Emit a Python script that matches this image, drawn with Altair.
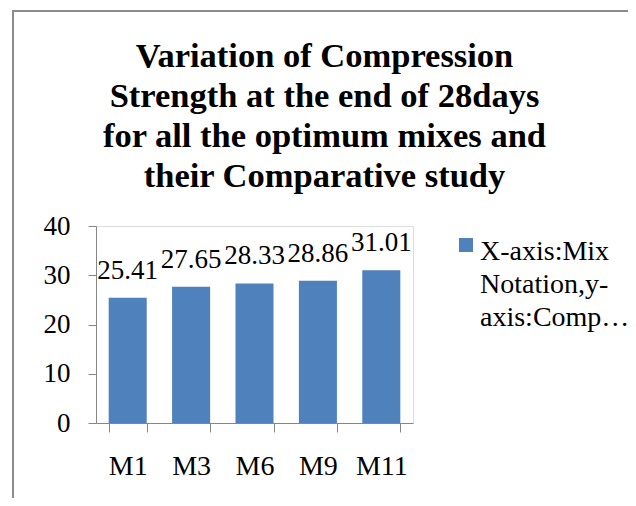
import altair as alt
import pandas as pd

categories = ["M1", "M3", "M6", "M9", "M11"]
values = [25.41, 27.65, 28.33, 28.86, 31.01]
series_name = "X-axis:Mix Notation,y-axis:Compression Strength"
legend_lines = ["X-axis:Mix", "Notation,y-", "axis:Comp\u2026"]
title_lines = [
    "Variation of Compression",
    "Strength at the end of 28days",
    "for all the optimum mixes and",
    "their Comparative study",
]
y_ticks = [0, 10, 20, 30, 40]

df = pd.DataFrame({"mix": categories, "strength": values, "series": [series_name] * len(categories)})

FONT = "Liberation Serif"
GRAY = "#868686"
BLUE = "#4F81BD"

base = alt.Chart(df)

bars = base.mark_bar(color=BLUE).encode(
    x=alt.X(
        "mix:N",
        sort=categories,
        title=None,
        scale=alt.Scale(paddingInner=0.4, paddingOuter=0.2),
        axis=alt.Axis(
            labelAngle=0,
            labelFont=FONT,
            labelFontSize=28,
            labelColor="black",
            labelPadding=20,
            domainColor=GRAY,
            tickColor=GRAY,
            tickSize=9,
            tickBand="extent",
            grid=False,
        ),
    ),
    y=alt.Y(
        "strength:Q",
        title=None,
        scale=alt.Scale(domain=[0, 40], nice=False),
        axis=alt.Axis(
            values=y_ticks,
            labelFont=FONT,
            labelFontSize=27,
            labelColor="black",
            labelPadding=18,
            domainColor=GRAY,
            tickColor=GRAY,
            tickSize=8,
            grid=False,
        ),
    ),
    color=alt.Color(
        "series:N",
        scale=alt.Scale(range=[BLUE]),
        legend=alt.Legend(
            title=legend_lines,
            titleOrient="right",
            titleAnchor="start",
            titleBaseline="top",
            titleFont=FONT,
            titleFontSize=28,
            titleFontWeight="normal",
            titleColor="black",
            titleLineHeight=33,
            titleLimit=400,
            titlePadding=7,
            orient="none",
            legendX=363,
            legendY=12,
            padding=0,
            symbolType="square",
            symbolSize=196,
            symbolStrokeWidth=0,
            labelOffset=0,
            labelExpr="''",
        ),
    ),
)

labels = base.mark_text(font=FONT, fontSize=27, baseline="alphabetic", dy=-19, color="black").encode(
    x=alt.X("mix:N", sort=categories),
    y="strength:Q",
    text=alt.Text("strength:Q", format=".2f"),
)

frame_df = pd.DataFrame({"k": [0]})
left_line = alt.Chart(frame_df).mark_rule(color="#8C8C8C", strokeWidth=2).encode(
    x=alt.value(-83), y=alt.value(-216), y2=alt.value(290)
)
top_line = alt.Chart(frame_df).mark_rule(color="#8C8C8C", strokeWidth=2).encode(
    x=alt.value(-84), x2=alt.value(540), y=alt.value(-215)
)

chart = alt.layer(bars, labels, left_line, top_line).properties(
    width=317,
    height=197,
    padding={"left": 88, "top": 218, "right": 215, "bottom": 75},
    autosize=alt.AutoSizeParams(type="none"),
    title=alt.TitleParams(
        text=title_lines,
        font=FONT,
        fontSize=34.5,
        fontWeight="bold",
        color="black",
        lineHeight=40,
        anchor="middle",
        dx=70,
        offset=-185,
    ),
).configure_view(stroke=None).configure(background="white")

chart.save("out.html", embed_options={"renderer": "svg", "actions": False})
